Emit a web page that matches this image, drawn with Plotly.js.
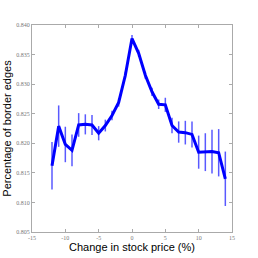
<!DOCTYPE html>
<html>
<head>
<meta charset="utf-8">
<script src="https://cdn.plot.ly/plotly-3.0.1.min.js"></script>
<style>html,body{margin:0;padding:0;background:#fff;}#chart{width:258px;height:258px;}</style>
</head>
<body>
<div id="chart"></div>
<script>
const priceChange = [-12,-11,-10,-9,-8,-7,-6,-5,-4,-3,-2,-1,0,1,2,3,4,5,6,7,8,9,10,11,12,13,14];
const borderPct = [0.8162,0.8229,0.8198,0.8188,0.8231,0.8232,0.8231,0.8217,0.8230,0.8247,0.8269,0.8315,0.8377,0.8352,0.8315,0.8287,0.8266,0.8265,0.8230,0.8219,0.8218,0.8215,0.8185,0.8185,0.8186,0.8184,0.8140];
const errPct = [0.0040,0.0035,0.0030,0.0027,0.0020,0.0017,0.0017,0.0012,0.0010,0.0008,0.0007,0.0006,0.0006,0.0006,0.0006,0.0007,0.0008,0.0012,0.0013,0.0018,0.0020,0.0022,0.0028,0.0032,0.0037,0.0040,0.0046];
const xTicks = [-15,-10,-5,0,5,10,15];
const yTicks = [0.805,0.810,0.815,0.820,0.825,0.830,0.835,0.840];

const trace = {
  x: priceChange, y: borderPct, type: 'scatter', mode: 'lines',
  line: {color: '#0000ff', width: 3},
  error_y: {type: 'data', array: errPct, visible: true, color: 'rgba(0,0,255,0.65)', thickness: 1.5, width: 0}
};
const tickFont = {family: 'Liberation Serif, DejaVu Serif, serif', size: 6, color: '#777'};
const titleFont = {family: 'Liberation Sans, Arial, sans-serif', size: 11, color: '#000'};
const layout = {
  width: 258, height: 258,
  margin: {l: 32, r: 26, t: 25, b: 26},
  paper_bgcolor: '#fff', plot_bgcolor: '#fff',
  showlegend: false,
  xaxis: {
    range: [-15, 15], tickvals: xTicks, ticktext: xTicks.map(v => String(v)),
    showgrid: false, zeroline: false,
    showline: true, linecolor: '#aaa', linewidth: 1, mirror: 'ticks',
    ticks: 'inside', ticklen: 3, tickcolor: '#aaa',
    tickfont: tickFont,
    title: {text: 'Change in stock price (%)', font: titleFont, standoff: 1},
    automargin: false
  },
  yaxis: {
    range: [0.805, 0.840], tickvals: yTicks, tickformat: '.3f',
    showgrid: false, zeroline: false,
    showline: true, linecolor: '#aaa', linewidth: 1, mirror: 'ticks',
    ticks: 'inside', ticklen: 3, tickcolor: '#aaa',
    tickfont: tickFont,
    title: {text: 'Percentage of border edges', font: titleFont, standoff: 2},
    automargin: false
  }
};
Plotly.newPlot('chart', [trace], layout, {staticPlot: true, displayModeBar: false});
</script>
</body>
</html>
